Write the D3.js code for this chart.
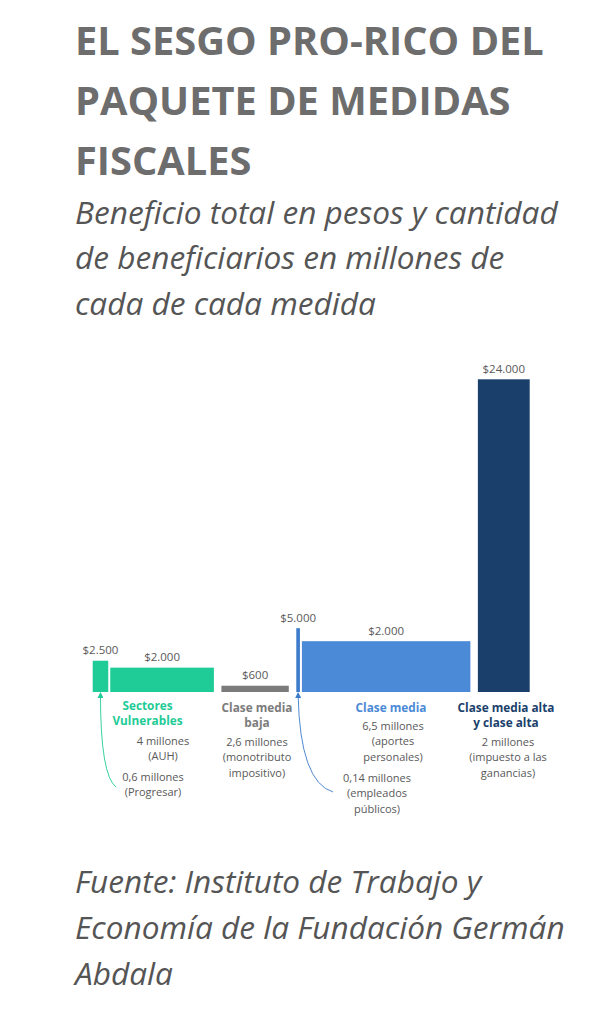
<!DOCTYPE html>
<html><head><meta charset="utf-8">
<script src="https://cdn.jsdelivr.net/npm/d3@7/dist/d3.min.js"></script>
<style>body{margin:0;background:#fff}svg{display:block}</style>
</head><body>
<svg id="chart" width="613" height="1009"></svg>
<script>
// ---- data ----
const measures = ["Progresar", "AUH", "Monotributo impositivo", "Empleados públicos", "Aportes personales", "Impuesto a las ganancias"];
const measureGroup = ["vuln", "vuln", "baja", "media", "media", "alta"];
const beneficiariesM = [0.6, 4, 2.6, 0.14, 6.5, 2];          // width: millions of beneficiaries
const benefitDrawn = [2400, 1870, 480, 4900, 3900, 24000];     // bar height as drawn (pesos)
const benefitLabels = ["$2.500", "$2.000", "$600", "$5.000", "$2.000", "$24.000"];
const groupKeys = ["vuln", "baja", "media", "alta"];
const groupNames = [["Sectores", "Vulnerables"], ["Clase media", "baja"], ["Clase media"], ["Clase media alta", "y clase alta"]];
const groupColors = ["#1fcb96", "#7b7b7b", "#4a8ad6", "#1b3f6b"];
const measureColors = ["#1fcb96", "#1fcb96", "#7b7b7b", "#3d7ccb", "#4a8ad6", "#1b3f6b"];
const measureNotes = [["0,6 millones", "(Progresar)"], ["4 millones", "(AUH)"], ["2,6 millones", "(monotributo", "impositivo)"],
  ["0,14 millones", "(empleados", "públicos)"], ["6,5 millones", "(aportes", "personales)"], ["2 millones", "(impuesto a las", "ganancias)"]];

const svg = d3.select("#chart");

// ---- titles ----
const titleLines = ["EL SESGO PRO-RICO DEL", "PAQUETE DE MEDIDAS", "FISCALES"];
const subtitleLines = ["Beneficio total en pesos y cantidad", "de beneficiarios en millones de", "cada de cada medida"];
const sourceLines = ["Fuente: Instituto de Trabajo y", "Economía de la Fundación Germán", "Abdala"];

svg.append("g").selectAll("text").data(titleLines).join("text")
  .attr("x", 75).attr("y", (d, i) => 55 + i * 60)
  .attr("font-family", "'Open Sans'").attr("font-weight", 700).attr("font-size", 39.8)
  .attr("fill", "#6d6d6d").text(d => d);

svg.append("g").selectAll("text").data(subtitleLines).join("text")
  .attr("x", 75).attr("y", (d, i) => 223.5 + i * 45.5)
  .attr("font-family", "'Open Sans'").attr("font-style", "italic").attr("font-size", 31.6)
  .attr("fill", "#555").text(d => d);

svg.append("g").selectAll("text").data(sourceLines).join("text")
  .attr("x", 75).attr("y", (d, i) => 893 + i * 46)
  .attr("font-family", "'Open Sans'").attr("font-style", "italic").attr("font-size", 31.6)
  .attr("fill", "#555").text(d => d);

// ---- chart scales ----
const baseY = 692;
const y = d3.scaleLinear().domain([0, 24000]).range([baseY, 379.3]);
const totalM = d3.sum(beneficiariesM);
const xM = d3.scaleLinear().domain([0, totalM]).range([0, 410.5]);
const x0 = 92.7, gapIn = 2, gapOut = 7.5;

let cum = 0, gaps = 0;
const bars = measures.map((m, i) => {
  if (i > 0) gaps += (measureGroup[i] === measureGroup[i - 1]) ? gapIn : gapOut;
  const left = x0 + xM(cum) + gaps;
  const w = Math.max(3, xM(beneficiariesM[i]));
  cum += beneficiariesM[i];
  return { i, m, left, w, cx: left + w / 2, top: y(benefitDrawn[i]) };
});

const g = svg.append("g");
g.selectAll("rect").data(bars).join("rect")
  .attr("x", d => d.left).attr("y", d => d.top)
  .attr("width", d => d.w).attr("height", d => baseY - d.top)
  .attr("fill", d => measureColors[d.i]);

g.selectAll("text.val").data(bars).join("text").attr("class", "val")
  .attr("x", d => d.cx).attr("y", d => d.top - 6.5)
  .attr("text-anchor", "middle").attr("font-family", "'Open Sans'").attr("font-size", 11.5)
  .attr("fill", "#595959").text(d => benefitLabels[d.i]);

// ---- group labels ----
const groupLabelPos = [[147.5, 710], [257, 712], [391, 712], [506, 712]];
groupKeys.forEach((k, gi) => {
  const t = g.append("text").attr("text-anchor", "middle")
    .attr("font-family", "'Open Sans'").attr("font-weight", 700).attr("font-size", 11.8)
    .attr("fill", groupColors[gi]);
  groupNames[gi].forEach((line, li) => {
    t.append("tspan").attr("x", groupLabelPos[gi][0]).attr("y", groupLabelPos[gi][1] + li * 14.5).text(line);
  });
});

// ---- measure notes ----
const notePos = [[153, 781], [163, 745], [257, 746], [377, 782], [393, 730], [508, 746]];
measureNotes.forEach((lines, i) => {
  const t = g.append("text").attr("text-anchor", "middle")
    .attr("font-family", "'Open Sans'").attr("font-size", 11).attr("fill", "#595959");
  lines.forEach((line, li) => {
    t.append("tspan").attr("x", notePos[i][0]).attr("y", notePos[i][1] + li * 15.3).text(line);
  });
});

// ---- arrows ----
const defs = svg.append("defs");
[["arrG", measureColors[0]], ["arrB", measureColors[3]]].forEach(([id, c]) => {
  defs.append("marker").attr("id", id).attr("viewBox", "0 0 10 10")
    .attr("refX", 5).attr("refY", 5).attr("markerWidth", 6).attr("markerHeight", 6)
    .attr("markerUnits", "userSpaceOnUse").attr("orient", "auto-start-reverse")
    .append("path").attr("d", "M0,0 L10,5 L0,10 Z").attr("fill", c);
});
const arrowDefs = [
  { i: 0, marker: "arrG", end: [116, 787], ctrl: [100.5, 775] },
  { i: 3, marker: "arrB", end: [333, 792], ctrl: [300, 782] }
];
arrowDefs.forEach(a => {
  const b = bars[a.i];
  const p = d3.path();
  p.moveTo(b.cx, baseY + 3);
  p.quadraticCurveTo(a.ctrl[0], a.ctrl[1], a.end[0], a.end[1]);
  g.append("path").attr("d", p.toString()).attr("fill", "none")
    .attr("stroke", measureColors[a.i]).attr("stroke-width", 0.9)
    .attr("marker-start", `url(#${a.marker})`);
});
</script>
</body></html>
